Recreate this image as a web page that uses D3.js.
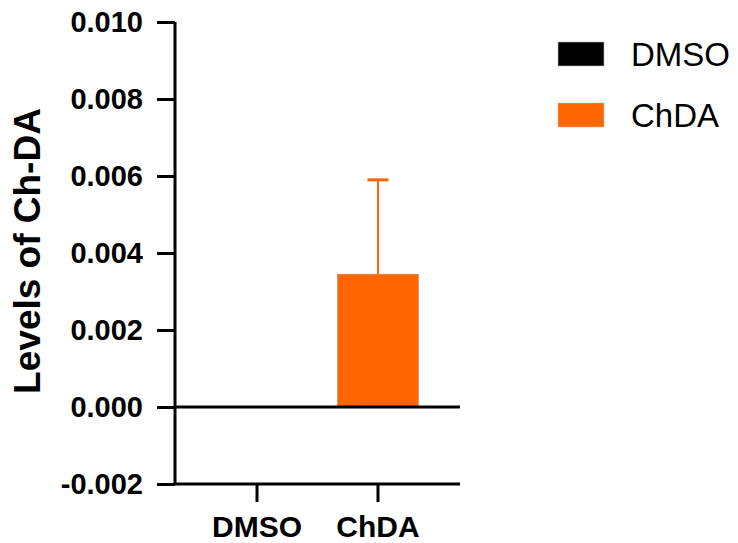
<!DOCTYPE html>
<html>
<head>
<meta charset="utf-8">
<script src="https://cdn.jsdelivr.net/npm/d3@7"></script>
<style>
  body { margin: 0; background: #fff; }
  svg { display: block; }
  text { font-family: "Liberation Sans", Arial, sans-serif; }
</style>
</head>
<body>
<script>
// data
var groups = ["DMSO", "ChDA"];
var means = [0, 0.00345];
var errors = [0, 0.00245];
var colors = ["#000000", "#FF6600"];
var yTicks = [-0.002, 0, 0.002, 0.004, 0.006, 0.008, 0.010];

var width = 738, height = 543;
var svg = d3.select("body").append("svg")
    .attr("width", width)
    .attr("height", height);

var axisX = 175, axisEnd = 460;

var y = d3.scaleLinear()
    .domain([-0.002, 0.010])
    .range([484, 22]);

var x = d3.scaleBand()
    .domain(groups)
    .range([axisX, axisEnd])
    .paddingInner(0.33)
    .paddingOuter(0.343);

// bars
svg.selectAll("rect.bar")
    .data(groups)
    .enter().append("rect")
    .attr("class", "bar")
    .attr("x", function (d) { return x(d); })
    .attr("width", x.bandwidth())
    .attr("y", function (d, i) { return Math.min(y(means[i]), y(0)); })
    .attr("height", function (d, i) { return Math.abs(y(0) - y(means[i])); })
    .attr("fill", function (d, i) { return colors[i]; })
    .attr("stroke", "#c98a6a")
    .attr("stroke-width", 0.6);

// error bars (upper only)
var err = svg.selectAll("g.err")
    .data(groups.filter(function (d, i) { return errors[i] > 0; }))
    .enter().append("g")
    .attr("class", "err");
err.append("line")
    .attr("x1", function (d) { return x(d) + x.bandwidth() / 2; })
    .attr("x2", function (d) { return x(d) + x.bandwidth() / 2; })
    .attr("y1", function (d) { var i = groups.indexOf(d); return y(means[i]); })
    .attr("y2", function (d) { var i = groups.indexOf(d); return y(means[i] + errors[i]); })
    .attr("stroke", function (d) { return colors[groups.indexOf(d)]; })
    .attr("stroke-width", 2);
err.append("line")
    .attr("x1", function (d) { return x(d) + x.bandwidth() / 2 - 10.5; })
    .attr("x2", function (d) { return x(d) + x.bandwidth() / 2 + 10.5; })
    .attr("y1", function (d) { var i = groups.indexOf(d); return y(means[i] + errors[i]); })
    .attr("y2", function (d) { var i = groups.indexOf(d); return y(means[i] + errors[i]); })
    .attr("stroke", function (d) { return colors[groups.indexOf(d)]; })
    .attr("stroke-width", 3);

// y axis
var fmt = d3.format(".3f");
var yAxis = svg.append("g")
    .attr("transform", "translate(" + axisX + ",0)")
    .call(d3.axisLeft(y).tickValues(yTicks)
        .tickFormat(function (d) { return fmt(d).replace("\u2212", "-"); })
        .tickSize(18).tickPadding(14));
yAxis.select(".domain").attr("d", "M0," + y(0.010) + "V" + y(-0.002)).attr("stroke-width", 3);
yAxis.selectAll(".tick line").attr("stroke-width", 3);
yAxis.selectAll(".tick text")
    .attr("font-size", 29)
    .attr("font-weight", "bold")
    .attr("font-family", "Liberation Sans, Arial, sans-serif")
    .attr("fill", "#000");

// zero line and bottom axis line
svg.append("line")
    .attr("x1", axisX).attr("x2", axisEnd)
    .attr("y1", y(0)).attr("y2", y(0))
    .attr("stroke", "#000").attr("stroke-width", 3);

var xAxis = svg.append("g")
    .attr("transform", "translate(0," + y(-0.002) + ")")
    .call(d3.axisBottom(x).tickSize(18).tickPadding(14));
xAxis.select(".domain").attr("d", "M" + (axisX - 1.5) + ",0H" + axisEnd).attr("stroke-width", 3);
xAxis.selectAll(".tick line").attr("stroke-width", 3);
xAxis.selectAll(".tick text")
    .attr("font-size", 30)
    .attr("font-weight", "bold")
    .attr("font-family", "Liberation Sans, Arial, sans-serif")
    .attr("fill", "#000");

// y title
svg.append("text")
    .attr("transform", "translate(40,251) rotate(-90)")
    .attr("text-anchor", "middle")
    .attr("font-size", 37)
    .attr("font-weight", "bold")
    .text("Levels of Ch-DA");

// legend
var legend = svg.selectAll("g.legend")
    .data(groups)
    .enter().append("g")
    .attr("class", "legend")
    .attr("transform", function (d, i) { return "translate(558," + (42 + i * 61) + ")"; });
legend.append("rect")
    .attr("width", 46)
    .attr("height", 24)
    .attr("fill", function (d, i) { return colors[i]; })
    .attr("stroke", "#bbb")
    .attr("stroke-width", 0.6);
legend.append("text")
    .attr("x", 73)
    .attr("y", 12)
    .attr("dy", "0.36em")
    .attr("font-size", 33)
    .text(function (d) { return d; });
</script>
</body>
</html>
